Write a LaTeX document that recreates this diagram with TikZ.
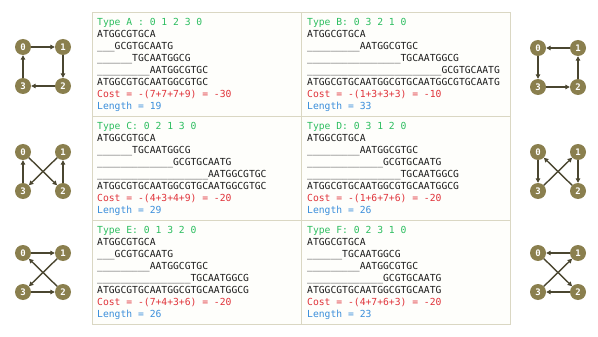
\documentclass[tikz,border=0pt]{standalone}
\usepackage{fontspec}
\setmonofont{DejaVu Sans Mono}
\usepackage{tikz}
\usetikzlibrary{positioning, arrows.meta}

\definecolor{typegreen}{HTML}{2DBE60}
\definecolor{costred}{HTML}{E0333A}
\definecolor{lenblue}{HTML}{3A8EDB}
\definecolor{vtxfill}{HTML}{8A7F4E}
\definecolor{hopcol}{HTML}{4A4630}
\definecolor{gridline}{HTML}{DAD7C3}
\definecolor{cellbg}{HTML}{FEFEFB}
\definecolor{seqtext}{HTML}{1C1C1C}

% underscores in front of a shifted read
\newcommand{\pad}[1]{\foreach\k in {1,...,#1}{\_}}

% four vertices of one cycle: 0 top left, 1 top right, 2 bottom right, 3 bottom left
\newcommand{\cyclenodes}[3]{%
  \node[vtx] (#1-0) at (#2,#3) {0};
  \node[vtx, right=of #1-0] (#1-1) {1};
  \node[vtx, below=of #1-1] (#1-2) {2};
  \node[vtx, below=of #1-0] (#1-3) {3};
}

\begin{document}
\begin{tikzpicture}[x=1pt, y=-1pt,
    cell/.style={draw=gridline, line width=0.9pt, fill=cellbg},
    seq/.style={anchor=north west, align=left, inner sep=0pt, text=seqtext,
      font=\ttfamily\fontsize{9.7}{11.9}\selectfont},
    vtx/.style={circle, fill=vtxfill, minimum size=16pt, inner sep=0pt, text=white,
      font=\ttfamily\bfseries\fontsize{9}{9}\selectfont},
    hop/.style={-{Triangle[length=4.5pt, width=4.5pt]}, draw=hopcol, line width=1.4pt},
    node distance=39pt and 40pt, on grid]
  \useasboundingbox (0,0) rectangle (598,337);

  % table
  \draw[cell] (92,12) rectangle (301,116);
  \draw[cell] (301,12) rectangle (510,116);
  \draw[cell] (92,116) rectangle (301,220);
  \draw[cell] (301,116) rectangle (510,220);
  \draw[cell] (92,220) rectangle (301,324);
  \draw[cell] (301,220) rectangle (510,324);

  \node[seq] (tA) at (97,18.5) {\textcolor{typegreen}{Type A : 0 1 2 3 0}\\
    ATGGCGTGCA\\
    \pad{3}GCGTGCAATG\\
    \pad{6}TGCAATGGCG\\
    \pad{9}AATGGCGTGC\\
    ATGGCGTGCAATGGCGTGC\\
    \textcolor{costred}{Cost = -(7+7+7+9) = -30}\\
    \textcolor{lenblue}{Length = 19}};
  \node[seq] (tB) at (307,18.5) {\textcolor{typegreen}{Type B: 0 3 2 1 0}\\
    ATGGCGTGCA\\
    \pad{9}AATGGCGTGC\\
    \pad{16}TGCAATGGCG\\
    \pad{23}GCGTGCAATG\\
    ATGGCGTGCAATGGCGTGCAATGGCGTGCAATG\\
    \textcolor{costred}{Cost = -(1+3+3+3) = -10}\\
    \textcolor{lenblue}{Length = 33}};
  \node[seq] (tC) at (97,122.5) {\textcolor{typegreen}{Type C: 0 2 1 3 0}\\
    ATGGCGTGCA\\
    \pad{6}TGCAATGGCG\\
    \pad{13}GCGTGCAATG\\
    \pad{19}AATGGCGTGC\\
    ATGGCGTGCAATGGCGTGCAATGGCGTGC\\
    \textcolor{costred}{Cost = -(4+3+4+9) = -20}\\
    \textcolor{lenblue}{Length = 29}};
  \node[seq] (tD) at (307,122.5) {\textcolor{typegreen}{Type D: 0 3 1 2 0}\\
    ATGGCGTGCA\\
    \pad{9}AATGGCGTGC\\
    \pad{13}GCGTGCAATG\\
    \pad{16}TGCAATGGCG\\
    ATGGCGTGCAATGGCGTGCAATGGCG\\
    \textcolor{costred}{Cost = -(1+6+7+6) = -20}\\
    \textcolor{lenblue}{Length = 26}};
  \node[seq] (tE) at (97,226.5) {\textcolor{typegreen}{Type E: 0 1 3 2 0}\\
    ATGGCGTGCA\\
    \pad{3}GCGTGCAATG\\
    \pad{9}AATGGCGTGC\\
    \pad{16}TGCAATGGCG\\
    ATGGCGTGCAATGGCGTGCAATGGCG\\
    \textcolor{costred}{Cost = -(7+4+3+6) = -20}\\
    \textcolor{lenblue}{Length = 26}};
  \node[seq] (tF) at (307,226.5) {\textcolor{typegreen}{Type F: 0 2 3 1 0}\\
    ATGGCGTGCA\\
    \pad{6}TGCAATGGCG\\
    \pad{9}AATGGCGTGC\\
    \pad{13}GCGTGCAATG\\
    ATGGCGTGCAATGGCGTGCAATG\\
    \textcolor{costred}{Cost = -(4+7+6+3) = -20}\\
    \textcolor{lenblue}{Length = 23}};

  % cycles
  \cyclenodes{A}{23}{47}
  \cyclenodes{B}{538}{48}
  \cyclenodes{C}{23}{152}
  \cyclenodes{D}{538}{152}
  \cyclenodes{E}{23}{253}
  \cyclenodes{F}{538}{253}

  \draw[hop] (A-0) -- (A-1);
  \draw[hop] (A-1) -- (A-2);
  \draw[hop] (A-2) -- (A-3);
  \draw[hop] (A-3) -- (A-0);

  \draw[hop] (B-0) -- (B-3);
  \draw[hop] (B-3) -- (B-2);
  \draw[hop] (B-2) -- (B-1);
  \draw[hop] (B-1) -- (B-0);

  \draw[hop] (C-0) -- (C-2);
  \draw[hop] (C-2) -- (C-1);
  \draw[hop] (C-1) -- (C-3);
  \draw[hop] (C-3) -- (C-0);

  \draw[hop] (D-0) -- (D-3);
  \draw[hop] (D-3) -- (D-1);
  \draw[hop] (D-1) -- (D-2);
  \draw[hop] (D-2) -- (D-0);

  \draw[hop] (E-0) -- (E-1);
  \draw[hop] (E-1) -- (E-3);
  \draw[hop] (E-3) -- (E-2);
  \draw[hop] (E-2) -- (E-0);

  \draw[hop] (F-0) -- (F-2);
  \draw[hop] (F-2) -- (F-3);
  \draw[hop] (F-3) -- (F-1);
  \draw[hop] (F-1) -- (F-0);
\end{tikzpicture}
\end{document}
